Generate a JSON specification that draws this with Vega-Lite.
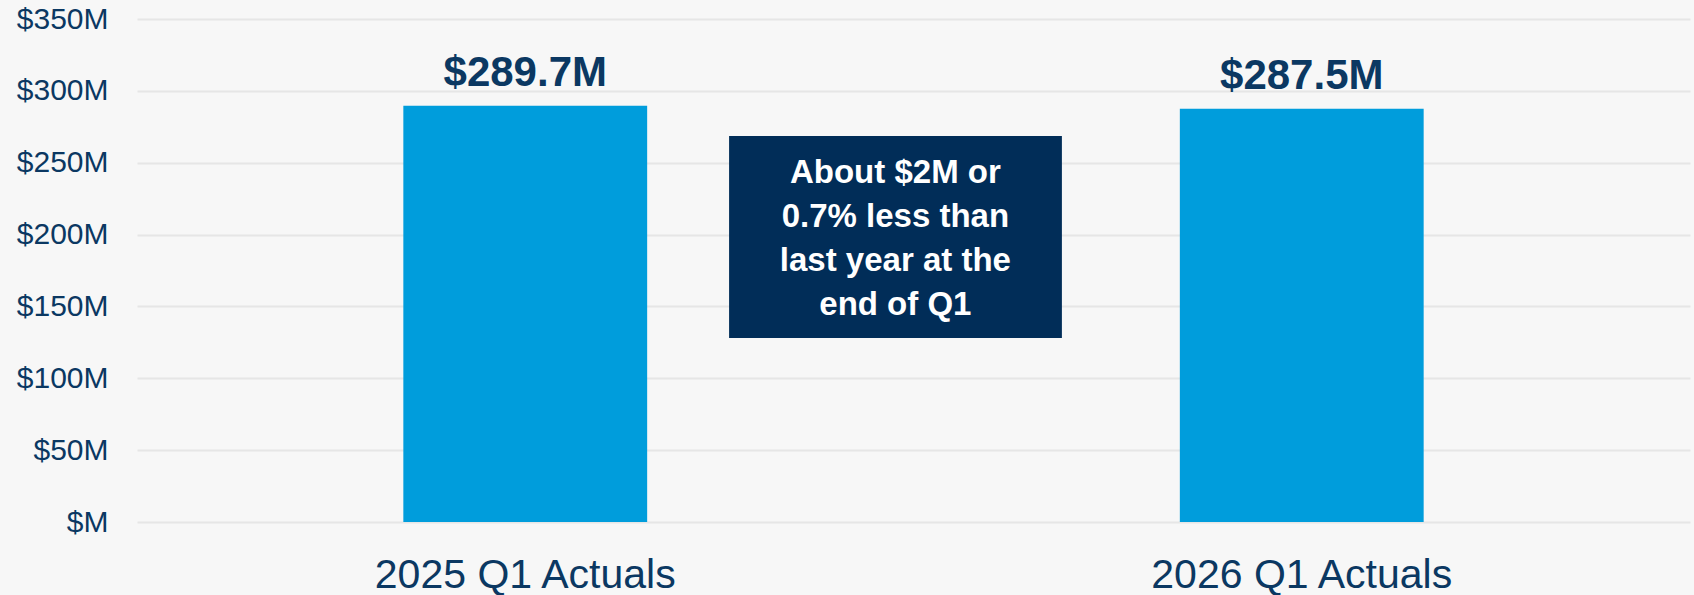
{
  "$schema": "https://vega.github.io/schema/vega-lite/v6.json",
  "width": 1553,
  "height": 503,
  "autosize": {"type": "none"},
  "padding": {"left": 137, "top": 19, "right": 4, "bottom": 73},
  "background": "#f7f7f7",
  "config": {"view": {"stroke": null}, "font": "Liberation Sans"},
  "data": {
    "values": [
      {"period": "2025 Q1 Actuals", "value": 289.7, "label": "$289.7M"},
      {"period": "2026 Q1 Actuals", "value": 287.5, "label": "$287.5M"}
    ]
  },
  "layer": [
    {
      "mark": {"type": "bar", "color": "#009ddc"},
      "encoding": {
        "x": {
          "field": "period",
          "type": "nominal",
          "sort": null,
          "scale": {"paddingInner": 0.686, "paddingOuter": 0.343},
          "axis": {
            "title": null,
            "domain": false,
            "ticks": false,
            "labelAngle": 0,
            "labelLimit": 0,
            "labelFont": "Liberation Sans",
            "labelFontSize": 41,
            "labelColor": "#0b3862",
            "labelBaseline": "alphabetic",
            "labelPadding": 65
          }
        },
        "y": {
          "field": "value",
          "type": "quantitative",
          "scale": {"domain": [0, 350]},
          "axis": {
            "title": null,
            "domain": false,
            "ticks": false,
            "values": [0, 50, 100, 150, 200, 250, 300, 350],
            "labelExpr": "'$' + (datum.value == 0 ? '' : datum.value) + 'M'",
            "labelFont": "Liberation Sans",
            "labelFontSize": 30,
            "labelColor": "#0b3862",
            "labelPadding": 29,
            "gridColor": "#e6e6e6",
            "gridWidth": 2
          }
        }
      }
    },
    {
      "mark": {
        "type": "text",
        "fontWeight": "bold",
        "fontSize": 42,
        "baseline": "alphabetic",
        "dy": -20,
        "color": "#0b3862"
      },
      "encoding": {
        "x": {"field": "period", "type": "nominal", "sort": null},
        "y": {"field": "value", "type": "quantitative"},
        "text": {"field": "label"}
      }
    },
    {
      "data": {"values": [{"note": "annotation"}]},
      "layer": [
        {
          "mark": {"type": "rect", "color": "#012d58"},
          "encoding": {
            "x": {"datum": "2025 Q1 Actuals", "bandPosition": 1.336},
            "x2": {"datum": "2025 Q1 Actuals", "bandPosition": 2.701},
            "y": {"datum": 268.6},
            "y2": {"datum": 128}
          }
        },
        {
          "mark": {
            "type": "text",
            "color": "white",
            "fontWeight": "bold",
            "fontSize": 33,
            "lineHeight": 44,
            "align": "center",
            "baseline": "alphabetic"
          },
          "encoding": {
            "x": {"datum": "2025 Q1 Actuals", "bandPosition": 2.018},
            "y": {"datum": 235.9},
            "text": {"value": ["About $2M or", "0.7% less than", "last year at the", "end of Q1"]}
          }
        }
      ]
    }
  ]
}
